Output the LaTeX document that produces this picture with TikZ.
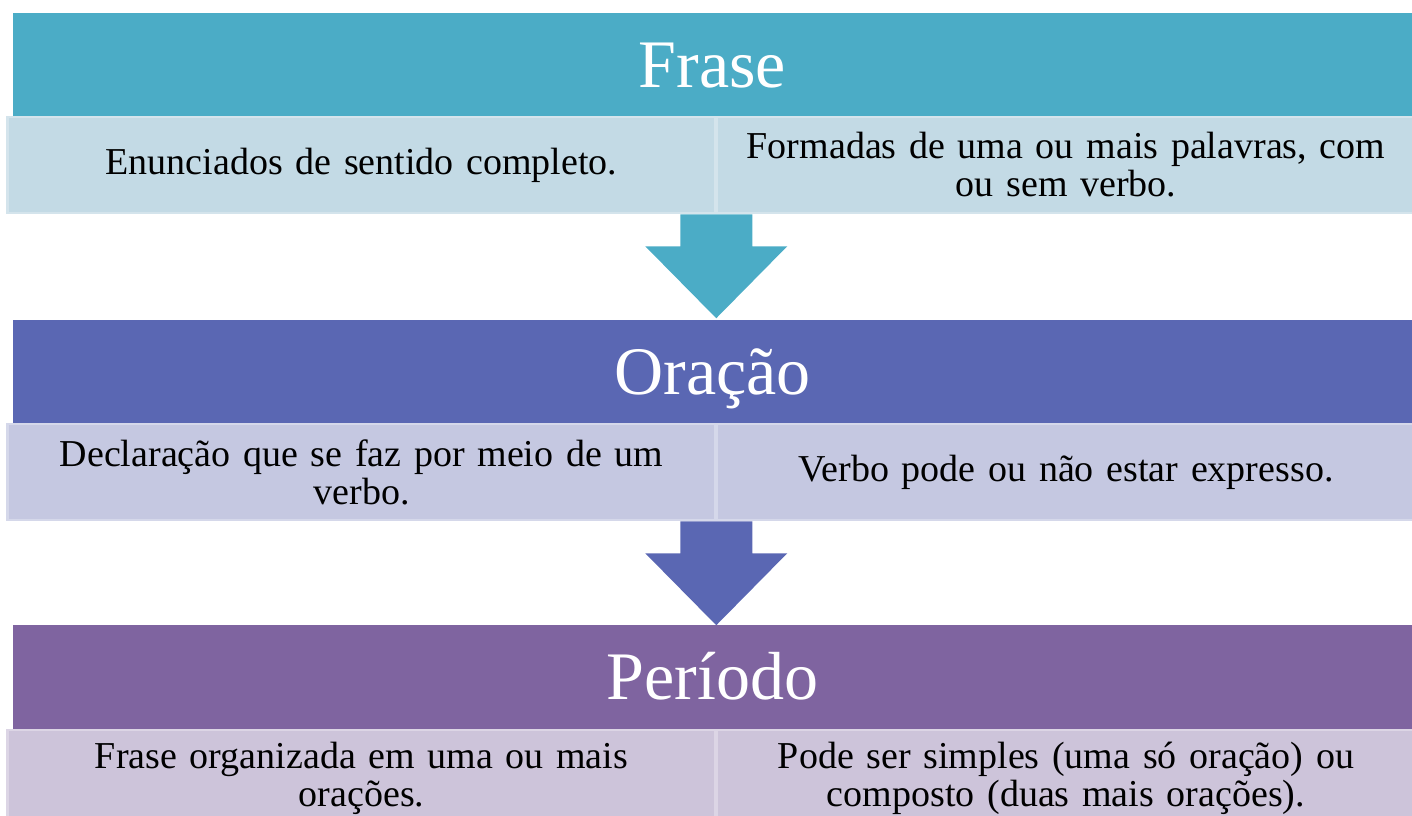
\documentclass[tikz,border=0pt]{standalone}
\usepackage{fontspec}
\setmainfont{Liberation Serif}
\usetikzlibrary{calc}

\definecolor{fraseHead}{HTML}{4BACC6}
\definecolor{fraseCell}{HTML}{C3DAE5}
\definecolor{fraseLine}{HTML}{D4E4EC}
\definecolor{oracaoHead}{HTML}{5A67B3}
\definecolor{oracaoCell}{HTML}{C5C8E1}
\definecolor{oracaoLine}{HTML}{D5D8EA}
\definecolor{periodoHead}{HTML}{7F64A0}
\definecolor{periodoCell}{HTML}{CDC4DA}
\definecolor{periodoLine}{HTML}{DCD5E5}

\tikzset{
  band/.style={fill=#1, inner sep=0pt, minimum width=1399pt, minimum height=104pt,
    text=white, text height=44pt, text depth=0pt, font=\fontsize{68}{68}\selectfont},
  cell/.style={fill=#1, line width=2.5pt, inner sep=0pt, minimum height=96pt,
    text width=690pt, align=center, font=\fontsize{38}{38}\selectfont},
}

\begin{document}
\begin{tikzpicture}[x=1pt,y=-1pt]
    \useasboundingbox (0,0) rectangle (1412,815);
    % Frase
    \node[band=fraseHead] (frase) at (712.5,65) {Frase};
    \node[cell=fraseCell, draw=fraseLine, minimum width=708pt] (fraseL) at (361.5,165) {Enunciados de sentido completo.};
    \node[cell=fraseCell, draw=fraseLine, minimum width=698pt] (fraseR) at (1066,165) {Formadas de uma ou mais palavras, com\\ou sem verbo.};
    \coordinate (seta1) at ($(fraseL.south east)!0.5!(fraseR.south west)$);
    \fill[fraseHead] (seta1) ++(-36,0) -- ++(0,32) -- ++(-35,0) -- ++(71,72) -- ++(71,-72) -- ++(-35,0) -- ++(0,-32) -- cycle;
    % Oracao
    \node[band=oracaoHead] (oracao) at (712.5,372) {Oração};
    \node[cell=oracaoCell, draw=oracaoLine, minimum width=708pt] (oracaoL) at (361.5,472) {Declaração que se faz por meio de um\\verbo.};
    \node[cell=oracaoCell, draw=oracaoLine, minimum width=698pt] (oracaoR) at (1066,472) {Verbo pode ou não estar expresso.};
    \coordinate (seta2) at ($(oracaoL.south east)!0.5!(oracaoR.south west)$);
    \fill[oracaoHead] (seta2) ++(-36,0) -- ++(0,32) -- ++(-35,0) -- ++(71,72) -- ++(71,-72) -- ++(-35,0) -- ++(0,-32) -- cycle;
    % Periodo
    \node[band=periodoHead] (periodo) at (712.5,677) {Período};
    \node[cell=periodoCell, draw=periodoLine, minimum width=708pt] (periodoL) at (361.5,778) {Frase organizada em uma ou mais\\orações.};
    \node[cell=periodoCell, draw=periodoLine, minimum width=698pt] (periodoR) at (1066,778) {Pode ser simples (uma só oração) ou\\composto (duas mais orações).};
\end{tikzpicture}
\end{document}
